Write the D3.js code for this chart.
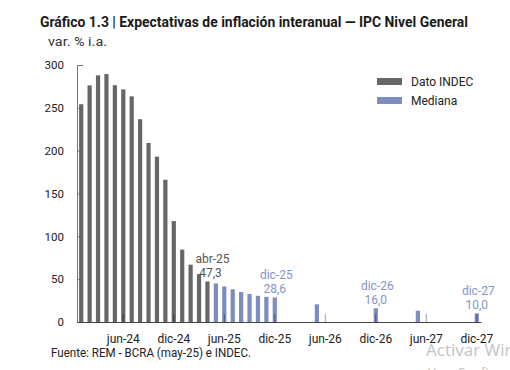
<!DOCTYPE html>
<html>
<head>
<meta charset="utf-8">
<script src="https://cdn.jsdelivr.net/npm/d3@7"></script>
<style>
  html, body { margin: 0; padding: 0; background: #fff; }
  svg { display: block; font-family: Roboto, "Liberation Sans", sans-serif; }
</style>
</head>
<body>
<div id="vis"></div>
<script>
// months on the x axis, ene-24 .. dic-27
var monthNames = ['ene', 'feb', 'mar', 'abr', 'may', 'jun', 'jul', 'ago', 'sep', 'oct', 'nov', 'dic'];
var years = ['24', '25', '26', '27'];

// Dato INDEC, from ene-24
var indecMonths = ['ene-24', 'feb-24', 'mar-24', 'abr-24', 'may-24', 'jun-24', 'jul-24', 'ago-24',
  'sep-24', 'oct-24', 'nov-24', 'dic-24', 'ene-25', 'feb-25', 'mar-25', 'abr-25'];
var indecValues = [254.2, 276.2, 287.9, 289.4, 276.4, 271.5, 263.4, 236.7,
  209.0, 193.0, 166.0, 117.8, 84.5, 66.9, 55.9, 47.3];

// Mediana REM
var medianaMonths = ['may-25', 'jun-25', 'jul-25', 'ago-25', 'sep-25', 'oct-25', 'nov-25', 'dic-25',
  'may-26', 'dic-26', 'may-27', 'dic-27'];
var medianaValues = [45.0, 41.5, 38.2, 35.0, 32.8, 30.6, 29.4, 28.6, 20.6, 16.0, 13.2, 10.0];

var yTicks = [0, 50, 100, 150, 200, 250, 300];
var xTicks = ['jun-24', 'dic-24', 'jun-25', 'dic-25', 'jun-26', 'dic-26', 'jun-27', 'dic-27'];

// labelled bars
var noteMonths = ['abr-25', 'dic-25', 'dic-26', 'dic-27'];
var noteValues = ['47,3', '28,6', '16,0', '10,0'];

var width = 510;
var height = 370;
var margin = { left: 77, right: 29, top: 65, bottom: 48 };

var greyBar = '#676767';
var blueBar = '#7d8dbf';

var months = [];
years.forEach(function (y) {
  monthNames.forEach(function (m) { months.push(m + '-' + y); });
});

var svg = d3.select('#vis').append('svg')
  .attr('width', width)
  .attr('height', height);

var x = d3.scaleBand()
  .domain(months)
  .range([margin.left, width - margin.right])
  .paddingInner(0.5)
  .paddingOuter(0.25);

var y = d3.scaleLinear()
  .domain([0, 300])
  .range([height - margin.bottom, margin.top]);

// title
svg.append('text')
  .attr('x', 40)
  .attr('y', 27)
  .attr('font-size', 14)
  .attr('font-weight', 'bold')
  .attr('fill', '#1a1a1a')
  .attr('textLength', 428)
  .attr('lengthAdjust', 'spacingAndGlyphs')
  .text('Gráfico 1.3 | Expectativas de inflación interanual — IPC Nivel General');

svg.append('text')
  .attr('x', 48)
  .attr('y', 46)
  .attr('font-size', 12)
  .attr('fill', '#333')
  .attr('textLength', 59)
  .attr('lengthAdjust', 'spacingAndGlyphs')
  .text('var. % i.a.');

// y axis
var yAxis = svg.append('g')
  .attr('transform', 'translate(' + margin.left + ',0)')
  .call(d3.axisLeft(y).tickValues(yTicks).tickSizeInner(-6).tickSizeOuter(0).tickPadding(13));

yAxis.select('.domain').attr('stroke', '#777');
yAxis.selectAll('.tick line').attr('stroke', '#777');
yAxis.selectAll('.tick text')
  .attr('font-size', 11.5)
  .attr('font-family', 'Roboto, sans-serif')
  .attr('fill', '#222');

// bars
var barData = indecMonths.map(function (m, i) {
  return { month: m, value: indecValues[i], color: greyBar };
}).concat(medianaMonths.map(function (m, i) {
  return { month: m, value: medianaValues[i], color: blueBar };
}));

svg.selectAll('.bar')
  .data(barData)
  .enter().append('rect')
  .attr('class', 'bar')
  .attr('x', function (d) { return x(d.month); })
  .attr('y', function (d) { return y(d.value); })
  .attr('width', x.bandwidth())
  .attr('height', function (d) { return y(0) - y(d.value); })
  .attr('fill', function (d) { return d.color; });

// x axis
var xAxis = svg.append('g')
  .attr('transform', 'translate(0,' + y(0) + ')')
  .call(d3.axisBottom(x).tickValues(xTicks).tickSizeInner(-8).tickSizeOuter(0).tickPadding(12.5));

xAxis.select('.domain').attr('stroke', '#444');
xAxis.selectAll('.tick line')
  .attr('stroke', '#000')
  .attr('stroke-opacity', 0.38);
xAxis.selectAll('.tick text')
  .attr('font-size', 12)
  .attr('font-family', 'Roboto, sans-serif')
  .attr('fill', '#222');

// bar notes
var notes = svg.selectAll('.note')
  .data(noteMonths)
  .enter().append('g')
  .attr('class', 'note')
  .attr('fill', function (d, i) { return i === 0 ? '#555' : '#8494c6'; })
  .attr('font-size', 12)
  .attr('text-anchor', 'middle');

notes.append('text')
  .attr('x', function (d, i) { return x(d) + x.bandwidth() / 2 + (i === 0 ? 5 : 1.5); })
  .attr('y', function (d, i) { return y(+noteValues[i].replace(',', '.')) - 18; })
  .text(function (d) { return d; });

notes.append('text')
  .attr('x', function (d, i) { return x(d) + x.bandwidth() / 2 + (i === 0 ? 3 : 0); })
  .attr('y', function (d, i) { return y(+noteValues[i].replace(',', '.')) - 4.5; })
  .text(function (d, i) { return noteValues[i]; });

// legend
var legendItems = [
  { name: 'Dato INDEC', color: greyBar },
  { name: 'Mediana', color: blueBar }
];

var legend = svg.selectAll('.legend')
  .data(legendItems)
  .enter().append('g')
  .attr('class', 'legend')
  .attr('transform', function (d, i) { return 'translate(377,' + (78 + i * 19) + ')'; });

legend.append('rect')
  .attr('width', 25)
  .attr('height', 7)
  .attr('fill', function (d) { return d.color; });

legend.append('text')
  .attr('x', 34)
  .attr('y', 8)
  .attr('font-size', 12)
  .attr('fill', '#222')
  .text(function (d) { return d.name; });

// source
svg.append('text')
  .attr('x', 51)
  .attr('y', 357)
  .attr('font-size', 12)
  .attr('fill', '#222')
  .attr('textLength', 200)
  .attr('lengthAdjust', 'spacingAndGlyphs')
  .text('Fuente: REM - BCRA (may-25) e INDEC.');

// screen watermark seen in the capture
svg.append('text')
  .attr('x', 426)
  .attr('y', 356)
  .attr('font-size', 17)
  .attr('font-family', '"Open Sans", sans-serif')
  .attr('fill', '#c4c4c4')
  .text('Activar Windows');

svg.append('text')
  .attr('x', 428)
  .attr('y', 377)
  .attr('font-size', 13)
  .attr('font-family', '"Open Sans", sans-serif')
  .attr('fill', '#c4c4c4')
  .text('Ve a Configuración');
</script>
</body>
</html>
